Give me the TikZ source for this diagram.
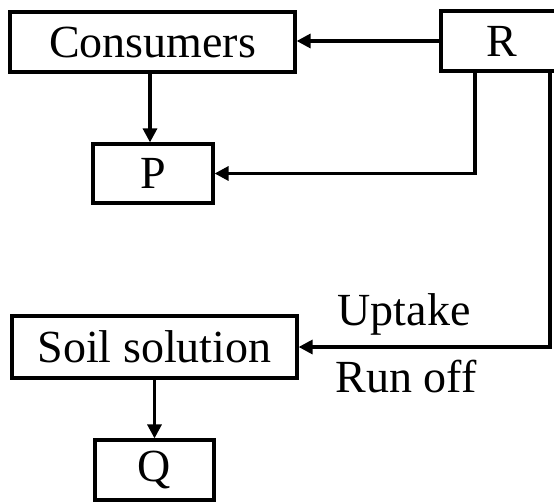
\documentclass[tikz,border=0pt]{standalone}
\usepackage{fontspec}
\setmainfont{Liberation Serif}
\usetikzlibrary{arrows.meta}

\begin{document}
\begin{tikzpicture}[x=1pt, y=-1pt,
    box/.style={draw, line width=3.2pt, inner sep=0pt, font=\fontsize{46}{50}\selectfont},
    arr/.style={line width=3.2pt, -{Triangle[length=14pt, width=14pt]}},
    lbl/.style={anchor=base, font=\fontsize{46}{50}\selectfont}]
    \useasboundingbox (0, 0) rectangle (554, 503);
    \clip (0, 0) rectangle (554, 503);

    \node[box, minimum width=285pt, minimum height=60pt] (cons) at (152.5, 42) {Consumers};
    \node[box, minimum width=122pt, minimum height=60pt] (r) at (502, 41) {R};
    \node[box, minimum width=120pt, minimum height=59pt] (p) at (153, 173.5) {P};
    \node[box, minimum width=285pt, minimum height=62pt] (soil) at (154.5, 347) {Soil solution};
    \node[box, minimum width=119pt, minimum height=60pt] (q) at (154.5, 470) {Q};
    \coordinate (cx) at (150, 0);

    \draw[arr] (r.west) -- (r.west -| cons.east);
    \draw[arr] (cx |- cons.south) -- (cx |- p.north);
    \draw[arr] ([xshift=-27pt]r.south) |- (p.east);
    \draw[arr] ([xshift=48pt]r.south) |- (soil.east);
    \draw[arr] (soil.south) -- (q.north);

    \node[lbl] (uptake) at (404, 325) {Uptake};
    \node[lbl] (runoff) at (406, 392) {Run off};
\end{tikzpicture}
\end{document}
